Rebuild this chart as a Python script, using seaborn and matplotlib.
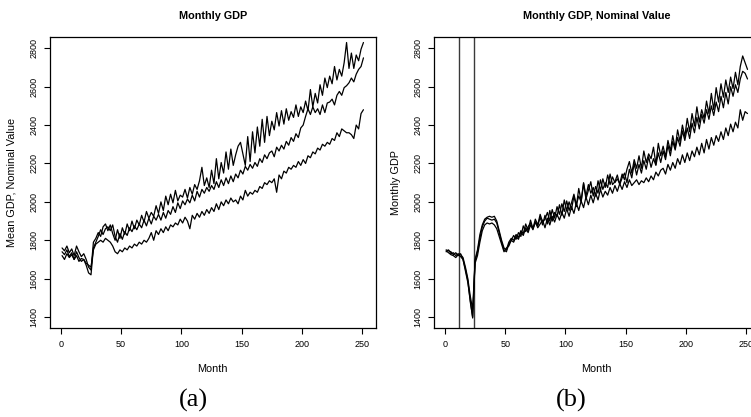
import numpy as np
import pandas as pd
import matplotlib
matplotlib.use("Agg")
import matplotlib.pyplot as plt
import seaborn as sns

### data: values, every second month (1, 3, ..., 251)
months = list(range(1, 252, 2))

# panel (a): Mean GDP, nominal value
gdp_a_top = [
    1760, 1745, 1770, 1735, 1755, 1720, 1770, 1740, 1715, 1730,
    1700, 1660, 1645, 1790, 1810, 1840, 1820, 1870, 1885, 1850,
    1880, 1835, 1800, 1855, 1810, 1865, 1830, 1885, 1850, 1900,
    1860, 1905, 1880, 1930, 1895, 1950, 1915, 1945, 1925, 1980,
    1940, 2000, 1955, 2030, 1985, 2040, 1995, 2060, 2005, 2035,
    2025, 2065, 2020, 2075, 2040, 2090, 2065, 2110, 2180, 2085,
    2125, 2075, 2165, 2095, 2225, 2120, 2205, 2150, 2260, 2170,
    2275, 2190, 2245, 2290, 2310, 2250, 2190, 2340, 2210, 2365,
    2255, 2390, 2290, 2430, 2310, 2445, 2345, 2420, 2375, 2465,
    2395, 2475, 2405, 2485, 2425, 2470, 2440, 2505, 2445, 2495,
    2465, 2525, 2475, 2585, 2495, 2565, 2515, 2610, 2555, 2645,
    2595, 2655, 2615, 2705, 2635, 2690, 2655, 2725, 2830, 2695,
    2775, 2695, 2765, 2735, 2795, 2830,
]
gdp_a_mid = [
    1740, 1725, 1750, 1715, 1735, 1700, 1740, 1710, 1690, 1700,
    1670, 1630, 1620, 1760, 1790, 1820, 1855, 1830, 1860, 1870,
    1850, 1880, 1820, 1790, 1835, 1805, 1845, 1825, 1865, 1845,
    1875, 1855, 1885, 1865, 1905, 1875, 1915, 1885, 1925, 1905,
    1935, 1905, 1945, 1915, 1955, 1935, 1975, 1945, 1995, 1965,
    2005, 1985, 2015, 1995, 2035, 2005, 2055, 2025, 2065, 2045,
    2075, 2055, 2085, 2065, 2105, 2075, 2115, 2085, 2125, 2095,
    2135, 2105, 2145, 2125, 2165, 2145, 2185, 2165, 2195, 2175,
    2205, 2185, 2225, 2205, 2245, 2225, 2255, 2265, 2235, 2285,
    2265, 2295, 2275, 2315, 2295, 2335, 2315, 2355, 2335, 2385,
    2400, 2445, 2485, 2455, 2495, 2465, 2485, 2455, 2505, 2465,
    2515, 2520, 2535, 2505, 2555, 2575, 2555, 2595, 2605, 2620,
    2645, 2625, 2665, 2690, 2705, 2750,
]
gdp_a_low = [
    1720, 1700, 1730, 1710, 1725, 1700, 1720, 1690, 1705, 1700,
    1680, 1670, 1660, 1750, 1780, 1790, 1800, 1790, 1810, 1800,
    1790, 1770, 1740, 1730, 1750, 1740, 1760, 1750, 1770, 1760,
    1780, 1770, 1790, 1780, 1800, 1790, 1810, 1840, 1800, 1850,
    1830, 1860, 1840, 1870, 1850, 1880, 1870, 1890, 1880, 1910,
    1890, 1920, 1900, 1860, 1930, 1910, 1940, 1920, 1950, 1930,
    1960, 1940, 1970, 1950, 1990, 1960, 2000, 1980, 2010, 1990,
    2020, 2000, 2010, 1990, 2030, 2010, 2060, 2030, 2050, 2040,
    2060, 2050, 2080, 2070, 2100, 2090, 2110, 2100, 2120, 2050,
    2140, 2120, 2160, 2150, 2180, 2170, 2190, 2180, 2210, 2190,
    2220, 2200, 2240, 2230, 2260, 2250, 2280, 2270, 2300, 2290,
    2310, 2300, 2330, 2320, 2360, 2340, 2380, 2370, 2360, 2360,
    2350, 2330, 2400, 2380, 2460, 2480,
]

# panel (b): Monthly GDP, nominal value
gdp_b_top = [
    1750, 1745, 1740, 1725, 1735, 1720, 1730, 1700, 1650, 1590,
    1480, 1400, 1700, 1750, 1830, 1880, 1910, 1920, 1925, 1920,
    1925, 1900, 1850, 1800, 1760, 1750, 1790, 1810, 1800, 1830,
    1815, 1850, 1835, 1885, 1850, 1905, 1860, 1895, 1875, 1920,
    1880, 1930, 1885, 1955, 1900, 1945, 1925, 1985, 1930, 2010,
    1955, 2000, 1960, 2030, 1975, 2070, 2005, 2100, 2030, 2090,
    2045, 2075, 2030, 2110, 2060, 2120, 2075, 2140, 2090, 2130,
    2100, 2120, 2095, 2145, 2115, 2170, 2210, 2150, 2220, 2175,
    2240, 2175, 2265, 2205, 2250, 2225, 2285, 2195, 2305, 2240,
    2290, 2235, 2320, 2265, 2345, 2280, 2375, 2315, 2400, 2340,
    2435, 2365, 2460, 2395, 2495, 2415, 2480, 2435, 2525, 2460,
    2565, 2480, 2595, 2520, 2615, 2545, 2635, 2570, 2650, 2590,
    2675, 2610, 2705, 2760, 2725, 2690,
]
gdp_b_mid = [
    1740, 1750, 1730, 1735, 1720, 1730, 1725, 1710, 1660, 1600,
    1510, 1440, 1690, 1740, 1810, 1870, 1900, 1915, 1910, 1905,
    1910, 1890, 1840, 1790, 1750, 1740, 1780, 1800, 1825, 1805,
    1840, 1820, 1875, 1845, 1870, 1890, 1860, 1910, 1880, 1935,
    1895, 1910, 1945, 1900, 1960, 1915, 1975, 1935, 1990, 1950,
    2005, 1955, 1995, 2040, 1985, 2030, 2000, 2095, 2015, 2060,
    2105, 2030, 2080, 2045, 2115, 2065, 2100, 2075, 2145, 2090,
    2105, 2140, 2090, 2125, 2150, 2100, 2170, 2125, 2200, 2140,
    2195, 2150, 2215, 2170, 2235, 2180, 2225, 2190, 2255, 2205,
    2265, 2220, 2295, 2240, 2315, 2270, 2335, 2290, 2370, 2320,
    2385, 2330, 2410, 2360, 2440, 2380, 2455, 2410, 2480, 2430,
    2500, 2450, 2520, 2470, 2550, 2490, 2570, 2510, 2600, 2550,
    2610, 2570, 2640, 2680, 2670, 2640,
]
gdp_b_low = [
    1745, 1735, 1725, 1720, 1710, 1725, 1715, 1700, 1640, 1580,
    1490, 1395, 1680, 1720, 1790, 1850, 1880, 1890, 1885, 1890,
    1880, 1860, 1820, 1780, 1740, 1760, 1770, 1800, 1790, 1820,
    1805, 1845, 1825, 1865, 1840, 1880, 1855, 1895, 1865, 1885,
    1905, 1865, 1915, 1880, 1925, 1895, 1935, 1905, 1945, 1915,
    1965, 1925, 1975, 1940, 1995, 1955, 2005, 1970, 2025, 1985,
    2035, 1995, 2045, 2010, 2065, 2025, 2055, 2035, 2075, 2045,
    2085, 2055, 2095, 2065, 2105, 2075, 2115, 2085, 2100, 2115,
    2090, 2110, 2100, 2125, 2105, 2135, 2115, 2155, 2135, 2165,
    2175, 2145, 2195, 2165, 2205, 2175, 2225, 2195, 2245, 2205,
    2255, 2215, 2265, 2235, 2285, 2245, 2305, 2255, 2325, 2275,
    2335, 2295, 2345, 2315, 2365, 2325, 2385, 2345, 2405, 2365,
    2415, 2385, 2480, 2425, 2470, 2460,
]

recession_marks = [12, 24]

x_ticks = [0, 50, 100, 150, 200, 250]
y_ticks = [1400, 1600, 1800, 2000, 2200, 2400, 2600, 2800]

### style
sns.set_style("ticks")
plt.rcParams["font.family"] = ["Liberation Sans", "DejaVu Sans"]
plt.rcParams["text.color"] = "black"
plt.rcParams["axes.labelcolor"] = "black"
plt.rcParams["xtick.color"] = "black"
plt.rcParams["ytick.color"] = "black"

fig = plt.figure(figsize=(7.51, 4.17), dpi=100)
ax_a = fig.add_axes([0.0666, 0.2134, 0.4334, 0.698])
ax_b = fig.add_axes([0.578, 0.2134, 0.4334, 0.698])


def r_style(ax, title, ylabel):
    ax.set_xlim(-9, 261)
    ax.set_ylim(1343, 2859)
    ax.set_xticks(x_ticks)
    ax.set_yticks(y_ticks)
    ax.tick_params(axis="both", length=4.5, width=0.8, labelsize=6.5,
                   color="black", labelcolor="black", direction="out", pad=4)
    ax.tick_params(axis="y", labelrotation=90)
    for lab in ax.get_yticklabels():
        lab.set_va("center")
    for sp in ax.spines.values():
        sp.set_visible(True)
        sp.set_linewidth(0.9)
        sp.set_color("black")
    ax.set_title(title, fontsize=7.8, fontweight="bold", pad=13, color="black")
    ax.set_xlabel("Month", fontsize=7.8, labelpad=11)
    ax.set_ylabel(ylabel, fontsize=7.8, labelpad=9)


for series in [gdp_a_top, gdp_a_mid, gdp_a_low]:
    sns.lineplot(x=months, y=series, ax=ax_a, color="black", lw=0.9)
r_style(ax_a, "Monthly GDP", "Mean GDP, Nominal Value")

for m in recession_marks:
    ax_b.axvline(m, color="#3a3a3a", lw=1.0)
for series in [gdp_b_top, gdp_b_mid, gdp_b_low]:
    sns.lineplot(x=months, y=series, ax=ax_b, color="black", lw=0.9)
r_style(ax_b, "Monthly GDP, Nominal Value", "Monthly GDP")

# captions
fig.text(0.258, 0.039, "(a)", ha="center", va="center", fontsize=19,
         family=["Liberation Serif", "DejaVu Serif"])
fig.text(0.761, 0.039, "(b)", ha="center", va="center", fontsize=19,
         family=["Liberation Serif", "DejaVu Serif"])

fig.savefig("out.png", dpi=100)
